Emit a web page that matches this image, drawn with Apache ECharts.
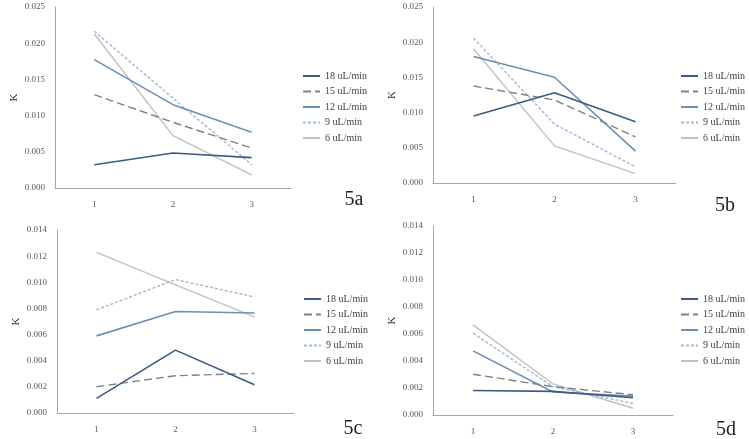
<!DOCTYPE html>
<html>
<head>
<meta charset="utf-8">
<script src="https://cdn.jsdelivr.net/npm/echarts@6/dist/echarts.min.js"></script>
<style>html,body{margin:0;padding:0;background:#fff}#c{width:749px;height:439px}</style>
</head>
<body>
<div id="c"></div>
<script>
// ---- data ----
const categories = ['1', '2', '3'];
const seriesNames = ['18 uL/min', '15 uL/min', '12 uL/min', '9 uL/min', '6 uL/min'];
const panelLabels = ['5a', '5b', '5c', '5d'];
const yTicksTop = [0, 0.005, 0.010, 0.015, 0.020, 0.025];
const yTicksBottom = [0, 0.002, 0.004, 0.006, 0.008, 0.010, 0.012, 0.014];

const k5a_18 = [0.00322, 0.00483, 0.00419];
const k5a_15 = [0.01289, 0.00907, 0.00552];
const k5a_12 = [0.01773, 0.01151, 0.00769];
const k5a_9  = [0.02164, 0.01240, 0.00322];
const k5a_6  = [0.02127, 0.00723, 0.00180];

const k5b_18 = [0.00951, 0.01283, 0.00870];
const k5b_15 = [0.01378, 0.01179, 0.00656];
const k5b_12 = [0.01797, 0.01502, 0.00452];
const k5b_9  = [0.02058, 0.00837, 0.00228];
const k5b_6  = [0.01906, 0.00528, 0.00133];

const k5c_18 = [0.00112, 0.00481, 0.00216];
const k5c_15 = [0.00201, 0.00285, 0.00303];
const k5c_12 = [0.00590, 0.00776, 0.00765];
const k5c_9  = [0.00789, 0.01021, 0.00888];
const k5c_6  = [0.01229, 0.00980, 0.00736];

const k5d_18 = [0.00181, 0.00175, 0.00128];
const k5d_15 = [0.00302, 0.00210, 0.00150];
const k5d_12 = [0.00475, 0.00170, 0.00140];
const k5d_9  = [0.00606, 0.00210, 0.00085];
const k5d_6  = [0.00668, 0.00230, 0.00050];

// ---- styles ----
const FONT = "'Liberation Serif','Times New Roman',serif";
const lineStyles = [
  {color: '#3B5A84', width: 1.6, type: 'solid'},
  {color: '#808080', width: 1.4, type: [8, 4]},
  {color: '#6B90B6', width: 1.6, type: 'solid'},
  {color: '#9CB9D5', width: 1.4, type: [3, 2]},
  {color: '#C0C0C0', width: 1.4, type: 'solid'}
];
const panelData = [
  [k5a_18, k5a_15, k5a_12, k5a_9, k5a_6],
  [k5b_18, k5b_15, k5b_12, k5b_9, k5b_6],
  [k5c_18, k5c_15, k5c_12, k5c_9, k5c_6],
  [k5d_18, k5d_15, k5d_12, k5d_9, k5d_6]
];
const grids = [
  {left: 55, top: 7, width: 236, height: 181},
  {left: 433, top: 7, width: 243, height: 176},
  {left: 57, top: 230, width: 237, height: 183},
  {left: 433, top: 226, width: 240, height: 189}
];
const legendPos = [
  {left: 302, top: 71}, {left: 680, top: 71},
  {left: 303, top: 294}, {left: 680, top: 294}
];
const labelPos = [[354, 200], [725, 206], [353, 429], [726, 430]];

const axisLineColor = '#A6A6A6';
const xAxes = [], yAxes = [], series = [], legends = [], graphics = [];
for (let p = 0; p < 4; p++) {
  const ticks = p < 2 ? yTicksTop : yTicksBottom;
  xAxes.push({
    gridIndex: p, type: 'category', data: categories, boundaryGap: true,
    axisLine: {lineStyle: {color: axisLineColor, width: 1}},
    axisTick: {show: false},
    axisLabel: {color: '#595959', fontFamily: FONT, fontSize: 9, margin: 12}
  });
  yAxes.push({
    gridIndex: p, type: 'value', min: ticks[0], max: ticks[ticks.length - 1],
    interval: ticks[1] - ticks[0],
    name: 'K', nameLocation: 'middle', nameGap: 35, nameRotate: 90,
    nameTextStyle: {color: '#333', fontFamily: FONT, fontSize: 11},
    axisLine: {show: true, lineStyle: {color: axisLineColor, width: 1}},
    axisTick: {show: false},
    splitLine: {show: false},
    axisLabel: {color: '#595959', fontFamily: FONT, fontSize: 9, margin: 10,
      formatter: v => v.toFixed(3)}
  });
  for (let s = 0; s < 5; s++) {
    series.push({
      type: 'line', name: seriesNames[s], xAxisIndex: p, yAxisIndex: p,
      data: panelData[p][s], symbol: 'none', showSymbol: false, lineStyle: lineStyles[s],
      itemStyle: {color: lineStyles[s].color}, animation: false, z: 10 - s
    });
  }
  legends.push({
    data: seriesNames, orient: 'vertical', left: legendPos[p].left, top: legendPos[p].top,
    padding: 0, itemWidth: 17, itemHeight: 11, itemGap: 5.5, selectedMode: false,
    itemStyle: {opacity: 0},
    textStyle: {color: '#404040', fontFamily: FONT, fontSize: 10}
  });
  graphics.push({
    type: 'text', x: labelPos[p][0], y: labelPos[p][1],
    style: {text: panelLabels[p], font: "20px " + FONT, fill: '#222',
      textAlign: 'center', textVerticalAlign: 'middle'}
  });
}

const chart = echarts.init(document.getElementById('c'), null, {renderer: 'canvas'});
chart.setOption({
  backgroundColor: '#fff',
  animation: false,
  grid: grids,
  xAxis: xAxes,
  yAxis: yAxes,
  legend: legends,
  series: series,
  graphic: graphics
});
</script>
</body>
</html>
